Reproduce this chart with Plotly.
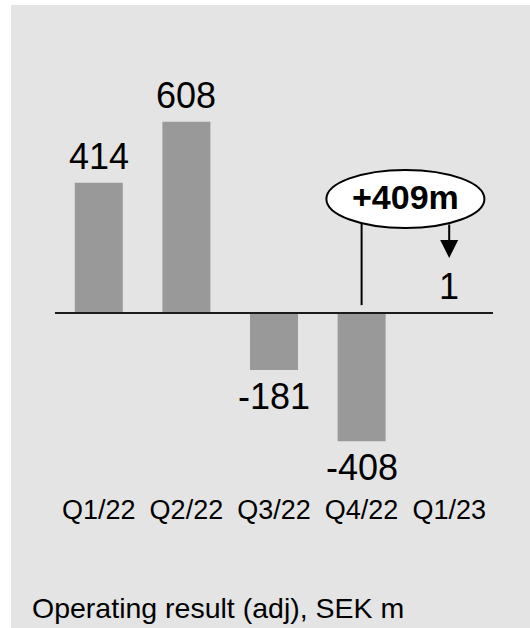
import plotly.graph_objects as go

# Quarterly operating result (adjusted), SEK m
quarters = ["Q1/22", "Q2/22", "Q3/22", "Q4/22", "Q1/23"]
results = [414, 608, -181, -408, 1]
change_label = "+409m"
chart_title = "Operating result (adj), SEK m"

FONT = "Liberation Sans, Arial, Helvetica, sans-serif"
BAR_COLOR = "#999999"
PANEL_COLOR = "#e4e4e4"

fig = go.Figure()

fig.add_trace(go.Bar(
    x=list(range(len(quarters))),
    y=results,
    marker=dict(color=BAR_COLOR, line=dict(width=0)),
    hoverinfo="skip",
))

# value labels above positive bars, below negative ones
for i, v in enumerate(results):
    fig.add_annotation(
        x=i, y=v, text=str(v), showarrow=False,
        yanchor="bottom" if v >= 0 else "top",
        yshift=4 if v >= 0 else -4,
        font=dict(family=FONT, size=36, color="black"),
    )

# baseline drawn over the bars
fig.add_shape(type="line", xref="paper", yref="y", x0=0, x1=1, y0=0, y1=0,
              line=dict(color="#1a1a1a", width=2), layer="above")

# callout: Q4/22 -> Q1/23 change
fig.add_shape(type="line", xref="x", yref="y", x0=3, x1=3, y0=25, y1=362,
              line=dict(color="black", width=2), layer="above")
fig.add_shape(type="circle", xref="x", yref="y", x0=2.598, x1=4.402, y0=270, y1=455,
              fillcolor="white", line=dict(color="black", width=2), layer="above")
fig.add_annotation(x=3.5, y=362, text="<b>%s</b>" % change_label, showarrow=False,
                   font=dict(family=FONT, size=34, color="black"), yshift=2)
fig.add_annotation(x=4, y=175, text="", showarrow=True, ax=0, ay=-35,
                   arrowhead=2, arrowsize=1.8, arrowwidth=2, arrowcolor="black")

# grey panel behind the chart
fig.add_shape(type="rect", xref="paper", yref="paper",
              x0=-0.1005, x1=1.2, y0=-0.4, y1=1.0795,
              fillcolor=PANEL_COLOR, line=dict(width=0), layer="below")

fig.update_layout(
    width=530, height=628,
    margin=dict(l=55, r=37, t=40, b=148),
    paper_bgcolor="white",
    plot_bgcolor="rgba(0,0,0,0)",
    showlegend=False,
    bargap=0.452,
    font=dict(family=FONT, color="black"),
    title=dict(text=chart_title, x=32 / 530, xanchor="left", xref="container",
               y=1 - 608 / 628, yanchor="middle", yref="container",
               font=dict(family=FONT, size=28.5, color="black")),
    xaxis=dict(
        tickmode="array", tickvals=list(range(len(quarters))), ticktext=quarters,
        range=[-0.5, len(quarters) - 0.5],
        showgrid=False, zeroline=False, showline=False, ticks="",
        tickfont=dict(family=FONT, size=27, color="black"),
        ticklabelstandoff=11,
        fixedrange=True,
    ),
    yaxis=dict(
        range=[-531, 868], showgrid=False, showticklabels=False, ticks="",
        showline=False, zeroline=False,
        fixedrange=True,
    ),
)

fig.write_html("out.html", config={"displayModeBar": False})
